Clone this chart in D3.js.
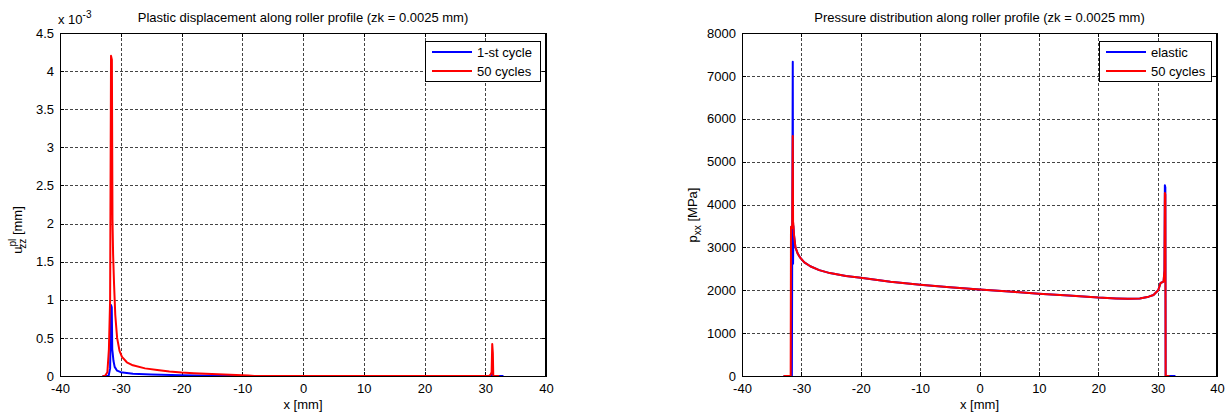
<!DOCTYPE html>
<html>
<head>
  <meta charset="utf-8">
  <title>Roller profile</title>
  <script src="https://d3js.org/d3.v7.min.js"></script>
</head>
<style>
  body { margin: 0; background: #fff; }
  svg text { font-family: Arial, 'Liberation Sans', sans-serif; fill: #000; }
  .grid line { stroke: #444; stroke-dasharray: 3,2; stroke-width: 1; shape-rendering: crispEdges; }
  .axis path, .axis line { stroke: #000; shape-rendering: crispEdges; }
  .axis text { font-size: 13px; }
</style>
<body>
<div class="chart"></div>
<script>
  // ---- data ----
  var xTicks = [-40, -30, -20, -10, 0, 10, 20, 30, 40];
  var uTicks = [0, 0.5, 1, 1.5, 2, 2.5, 3, 3.5, 4, 4.5];
  var pTicks = [0, 1000, 2000, 3000, 4000, 5000, 6000, 7000, 8000];

  // plastic displacement, 1-st cycle (x [mm], u [1e-3 mm])
  var cycle1X = [-33, -32, -31.75, -31.6, -31.48, -31.4, -31.33, -31.2, -31.0, -30.6, -30.0, -28, -25, -20, -15, -10, 31.0, 31.15, 31.3, 33];
  var cycle1U = [0, 0, 0.1, 0.93, 0.9, 0.35, 0.3, 0.2, 0.12, 0.07, 0.05, 0.03, 0.02, 0.01, 0.004, 0, 0, 0.05, 0, 0];

  // plastic displacement, 50 cycles
  var cycle50X = [-33, -32.6, -32.2, -31.95, -31.75, -31.6, -31.46, -31.36, -31.26, -31.1, -30.9, -30.6, -30.2, -29.8, -29, -28, -26, -24, -22, -20, -18, -15, -12, -10, -9, -8, 30.6, 30.9, 31.05, 31.15, 31.25, 31.32, 32.3];
  var cycle50U = [0, 0, 0.05, 0.35, 1.0, 4.2, 4.15, 2.05, 1.6, 1.2, 0.8, 0.5, 0.33, 0.25, 0.18, 0.14, 0.1, 0.08, 0.06, 0.045, 0.035, 0.025, 0.018, 0.01, 0.005, 0, 0, 0.02, 0.05, 0.42, 0.3, 0, 0];

  // pressure, elastic (x [mm], p [MPa])
  var elasticX = [-33, -31.6, -31.55, -31.45, -31.4, -31.35, -31.25, -31.0, -30.6, -30.2, -29.5, -28.5, -27, -25.2, -22.5, -20, -15, -10, -5, 0, 5, 10, 15, 20, 23, 25, 27, 28.5, 29.3, 30.1, 30.5, 31.0, 31.15, 31.22, 31.3, 31.35, 33];
  var elasticP = [0, 0, 2600, 7330, 2620, 3500, 3300, 3000, 2850, 2760, 2650, 2560, 2470, 2400, 2330, 2290, 2200, 2130, 2070, 2020, 1970, 1920, 1880, 1830, 1810, 1800, 1810, 1850, 1890, 2000, 2170, 2200, 2450, 4450, 4400, 0, 0];

  // pressure, 50 cycles
  var press50X = [-33, -31.8, -31.75, -31.55, -31.45, -31.4, -31.35, -31.25, -31.0, -30.6, -30.2, -29.5, -28.5, -27, -25.2, -22.5, -20, -15, -10, -5, 0, 5, 10, 15, 20, 23, 25, 27, 28.5, 29.3, 30.1, 30.5, 31.0, 31.15, 31.22, 31.3, 31.35, 32];
  var press50P = [0, 0, 3480, 3450, 5600, 3600, 3550, 3300, 3000, 2850, 2760, 2650, 2560, 2470, 2400, 2330, 2290, 2200, 2130, 2070, 2020, 1970, 1920, 1880, 1830, 1810, 1800, 1810, 1850, 1890, 2000, 2170, 2200, 2450, 4270, 4230, 0, 0];

  var svg = d3.select('.chart').append('svg')
    .attr('width', 1228)
    .attr('height', 415);

  function zip(xs, ys) { return xs.map(function(v, i) { return [v, ys[i]]; }); }
  // matlab style labels: plain hyphen for minus
  function plain(d) { return String(d); }

  function panel(o) {
    var x = d3.scaleLinear().domain([-40, 40]).range([o.left, o.right]);
    var y = d3.scaleLinear().domain(o.yDomain).range([376, 33]);

    var g = svg.append('g');

    // grid
    var grid = g.append('g').attr('class', 'grid');
    grid.selectAll('.gx').data(xTicks.slice(1, -1)).enter().append('line')
      .attr('x1', function(d) { return Math.round(x(d)) + 0.5; })
      .attr('x2', function(d) { return Math.round(x(d)) + 0.5; })
      .attr('y1', 33).attr('y2', 376);
    grid.selectAll('.gy').data(o.yTicks.slice(1, -1)).enter().append('line')
      .attr('y1', function(d) { return Math.round(y(d)) + 0.5; })
      .attr('y2', function(d) { return Math.round(y(d)) + 0.5; })
      .attr('x1', o.left).attr('x2', o.right);

    // axes (ticks pointing inward)
    g.append('g').attr('class', 'axis')
      .attr('transform', 'translate(0,376)')
      .call(d3.axisBottom(x).tickValues(xTicks).tickFormat(plain).tickSizeInner(-4).tickSizeOuter(0).tickPadding(8));
    g.append('g').attr('class', 'axis')
      .attr('transform', 'translate(' + o.left + ',0)')
      .call(d3.axisLeft(y).tickValues(o.yTicks).tickFormat(plain).tickSizeInner(-4).tickSizeOuter(0).tickPadding(6));
    g.append('g').attr('class', 'axis')
      .attr('transform', 'translate(0,33)')
      .call(d3.axisTop(x).tickValues(xTicks).tickSizeInner(-4).tickSizeOuter(0).tickFormat(''));
    g.append('g').attr('class', 'axis')
      .attr('transform', 'translate(' + o.right + ',0)')
      .call(d3.axisRight(y).tickValues(o.yTicks).tickSizeInner(-4).tickSizeOuter(0).tickFormat(''));

    // series
    var line = d3.line()
      .x(function(d) { return x(d[0]); })
      .y(function(d) { return y(d[1]); });
    o.series.forEach(function(s) {
      g.append('path')
        .datum(s.data)
        .attr('fill', 'none')
        .attr('stroke', s.color)
        .attr('stroke-width', 2)
        .attr('stroke-linejoin', 'round')
        .attr('d', line);
    });

    // box
    g.append('rect')
      .attr('x', o.left + 0.5).attr('y', 33.5)
      .attr('width', o.right - o.left - 1).attr('height', 343)
      .attr('fill', 'none').attr('stroke', '#000').style('shape-rendering', 'crispEdges');

    // title + x label
    var cx = (o.left + o.right) / 2;
    g.append('text').attr('x', cx).attr('y', 22)
      .attr('text-anchor', 'middle').style('font-size', '13px').text(o.title);
    g.append('text').attr('x', cx).attr('y', 409)
      .attr('text-anchor', 'middle').style('font-size', '13px').text('x [mm]');

    // legend
    var lg = g.append('g');
    lg.append('rect')
      .attr('x', o.legX + 0.5).attr('y', 41.5)
      .attr('width', o.legW).attr('height', 40)
      .attr('fill', '#fff').attr('stroke', '#000').style('shape-rendering', 'crispEdges');
    o.series.forEach(function(s, i) {
      var ly = 52 + i * 19;
      lg.append('line')
        .attr('x1', o.legX + 7).attr('x2', o.legX + 47)
        .attr('y1', ly).attr('y2', ly)
        .attr('stroke', s.color).attr('stroke-width', 2);
      lg.append('text')
        .attr('x', o.legX + 52).attr('y', ly + 4.5)
        .style('font-size', '13px').text(s.name);
    });
    return g;
  }

  // left: plastic displacement
  panel({
    left: 60, right: 546,
    yDomain: [0, 4.5], yTicks: uTicks,
    title: 'Plastic displacement along roller profile (zk = 0.0025 mm)',
    legX: 425, legW: 115,
    series: [
      {name: '1-st cycle', color: '#0000ff', data: zip(cycle1X, cycle1U)},
      {name: '50 cycles', color: '#ff0000', data: zip(cycle50X, cycle50U)}
    ]
  });

  // exponent note
  var ex = svg.append('text').attr('x', 58).attr('y', 24).style('font-size', '13px');
  ex.append('tspan').text('x 10');
  ex.append('tspan').attr('dy', -6).style('font-size', '10px').text('-3');

  // left y label
  var yl = svg.append('text')
    .attr('transform', 'translate(22,230) rotate(-90)')
    .attr('text-anchor', 'middle').style('font-size', '13px');
  yl.append('tspan').text('u');
  yl.append('tspan').attr('dy', -6).style('font-size', '10px').text('pl');
  yl.append('tspan').attr('dx', -10).attr('dy', 10).style('font-size', '10px').text('zz');
  yl.append('tspan').attr('dy', -4).text(' [mm]');

  // right: pressure
  panel({
    left: 742, right: 1217,
    yDomain: [0, 8000], yTicks: pTicks,
    title: 'Pressure distribution along roller profile (zk = 0.0025 mm)',
    legX: 1099, legW: 112,
    series: [
      {name: 'elastic', color: '#0000ff', data: zip(elasticX, elasticP)},
      {name: '50 cycles', color: '#ff0000', data: zip(press50X, press50P)}
    ]
  });

  var pl = svg.append('text')
    .attr('transform', 'translate(697,215) rotate(-90)')
    .attr('text-anchor', 'middle').style('font-size', '13px');
  pl.append('tspan').text('p');
  pl.append('tspan').attr('dy', 4).style('font-size', '10px').text('xx');
  pl.append('tspan').attr('dy', -4).text(' [MPa]');
</script>
</body>
</html>
